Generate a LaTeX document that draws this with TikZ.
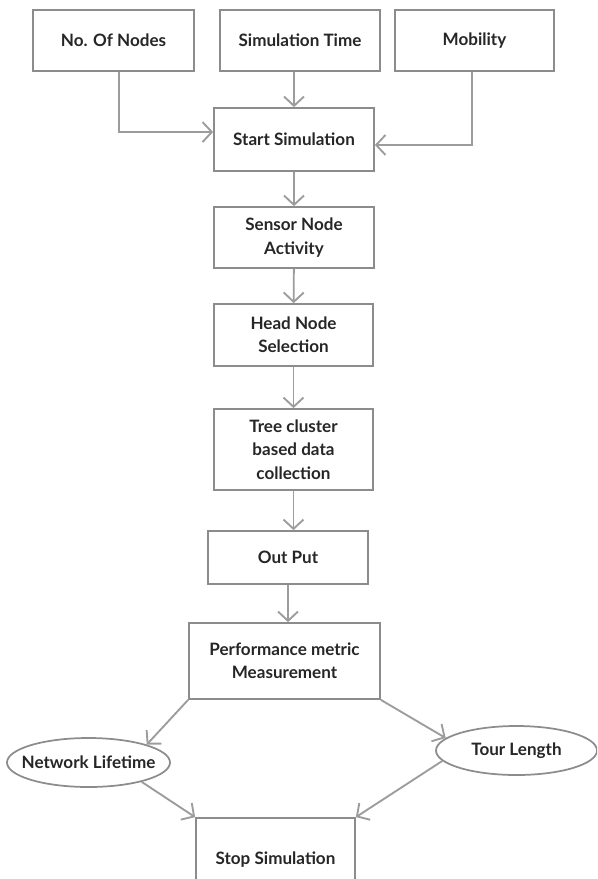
\documentclass[tikz,border=0pt]{standalone}
\usepackage{fontspec}
\setmainfont{Lato}
\usetikzlibrary{arrows.meta,shapes.geometric}
\definecolor{boxgray}{HTML}{8C8C8C}
\definecolor{linkgray}{HTML}{9C9C9C}
\definecolor{textgray}{HTML}{262626}

\begin{document}
\begin{tikzpicture}[
  flowbox/.style  = {draw=boxgray, line width=1.3pt, align=center, text=textgray,
                     font=\bfseries\fontsize{12.8}{17.5}\selectfont, inner sep=2pt},
  flowoval/.style = {draw=boxgray, line width=1.3pt, ellipse, inner xsep=-8pt, inner ysep=0pt, text=textgray,
                     font=\bfseries\fontsize{12.8}{17.5}\selectfont},
  flowlink/.style = {-{Straight Barb[length=7pt,width=15pt]}, draw=linkgray, line width=1.4pt},
  x=0.75pt, y=-0.75pt,
]

  \clip (0,0) rectangle (597,879);

  \node[flowbox,minimum width=120.75pt,minimum height=45.75pt] (nodes)  at (113.5,40.5) {No. Of Nodes};
  \node[flowbox,minimum width=120pt,minimum height=45.75pt]    (simt)   at (300,40.5)   {Simulation Time};
  \node[flowbox,minimum width=119.25pt,minimum height=45.75pt] (mob)    at (474.5,40.5) {Mobility};
  \node[flowbox,minimum width=120pt,minimum height=47.25pt]    (start)  at (294,139.5)  {Start Simulation};
  \node[flowbox,minimum width=120pt,minimum height=45.75pt]    (sensor) at (294,237.5)  {Sensor Node\\Activity};
  \node[flowbox,minimum width=119.25pt,minimum height=46.5pt]  (head)   at (293.5,335)  {Head Node\\Selection};
  \node[flowbox,minimum width=119.25pt,minimum height=60.75pt] (tree)   at (293.5,449.5) {Tree cluster\\based data\\collection};
  \node[flowbox,minimum width=120pt,minimum height=39.75pt]    (out)    at (288,557.5)  {Out Put};
  \node[flowbox,minimum width=143.25pt,minimum height=57pt]    (perf)   at (284.5,661)  {Performance metric\\Measurement};
  \node[flowoval,minimum width=122.25pt,minimum height=36.75pt] (life)  at (88.5,762.5) {Network Lifetime};
  \node[flowoval,minimum width=120.75pt,minimum height=36.75pt] (tour)  at (516.5,750.5) {Tour Length};
  \node[flowbox,minimum width=119.25pt,minimum height=63pt]    (stop)   at (275.5,860)  {Stop Simulation};

  \draw[flowlink] ([xshift=4pt]nodes.south) |- ([yshift=5.6pt]start.west);
  \draw[flowlink] (simt.south -| start.north) -- (start.north);
  \draw[flowlink] ([xshift=-2pt]mob.south) |- ([yshift=-4.1pt]start.east);
  \draw[flowlink] (start) -- (sensor);
  \draw[flowlink] (sensor) -- (head);
  \draw[flowlink] (head) -- (tree);
  \draw[flowlink] (tree.south) -- (tree.south |- out.north);
  \draw[flowlink] (out.south) -- (out.south |- perf.north);
  \draw[flowlink] (perf.south west) -- (life.north east);
  \draw[flowlink] (perf.south east) -- (tour.170);
  \draw[flowlink] (life.-20) -- (stop.north west);
  \draw[flowlink] (tour.188) -- (stop.north east);
\end{tikzpicture}
\end{document}
